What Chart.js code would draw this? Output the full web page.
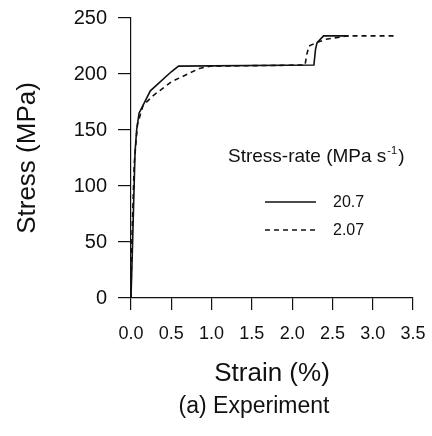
<!DOCTYPE html>
<html>
<head>
<meta charset="utf-8">
<script src="https://cdn.jsdelivr.net/npm/chart.js@4.4.1/dist/chart.umd.min.js"></script>
<style>
  html, body { margin: 0; padding: 0; background: #fff; }
  #wrap { width: 432px; height: 436px; position: relative; }
</style>
</head>
<body>
<div id="wrap"><canvas id="chart" width="432" height="436"></canvas></div>
<script>
// stress-rate 20.7 MPa/s (solid)
const strainFast = [0, 0.02, 0.05, 0.07, 0.10, 0.24, 0.50, 0.59, 2.27, 2.29, 2.31, 2.39, 2.70];
const stressFast = [0, 50, 130, 150, 165, 185, 202, 207, 208, 222, 228, 234, 234];

// stress-rate 2.07 MPa/s (dashed)
const strainSlow = [0, 0.01, 0.04, 0.08, 0.15, 0.28, 0.50, 0.85, 0.98, 2.16, 2.18, 2.21, 2.30, 2.42, 2.68, 3.30];
const stressSlow = [0, 50, 120, 155, 172, 181, 193, 205, 207, 208, 217, 225, 228, 231, 234, 234];

const seriesNames = ['20.7', '2.07'];
const legendTitle = 'Stress-rate (MPa s';
const legendSup = '-1';
const xTitle = 'Strain (%)';
const yTitle = 'Stress (MPa)';
const caption = '(a) Experiment';

const FONT = "'Liberation Sans', Arial, sans-serif";
const INK = '#111';

const toPoints = (xs, ys) => xs.map((x, i) => ({ x: x, y: ys[i] }));

const whiteBg = {
    id: 'whiteBg',
    beforeDraw(chart) {
        const ctx = chart.ctx;
        ctx.save();
        ctx.fillStyle = '#fff';
        ctx.fillRect(0, 0, chart.width, chart.height);
        ctx.restore();
    }
};

// legend box inside the plot + caption under the chart
const extras = {
    id: 'extras',
    afterDraw(chart) {
        const ctx = chart.ctx;
        ctx.save();
        ctx.fillStyle = INK;
        ctx.strokeStyle = INK;
        ctx.textBaseline = 'middle';
        ctx.textAlign = 'left';

        ctx.font = '19px ' + FONT;
        let x = 228;
        ctx.fillText(legendTitle, x, 157);
        x += ctx.measureText(legendTitle).width + 1;
        ctx.font = '11px ' + FONT;
        ctx.fillText(legendSup, x, 151);
        x += ctx.measureText(legendSup).width + 1;
        ctx.font = '19px ' + FONT;
        ctx.fillText(')', x, 157);

        const rows = [202, 230];
        chart.data.datasets.forEach((ds, i) => {
            ctx.lineWidth = 1.4;
            ctx.setLineDash(ds.borderDash || []);
            ctx.beginPath();
            ctx.moveTo(265, rows[i]);
            ctx.lineTo(316, rows[i]);
            ctx.stroke();
            ctx.setLineDash([]);
            ctx.font = '16px ' + FONT;
            ctx.fillText(seriesNames[i], 333, rows[i] + 1);
        });

        ctx.textAlign = 'center';
        ctx.font = '23px ' + FONT;
        ctx.fillText(caption, 254, 407);
        ctx.restore();
    }
};

new Chart(document.getElementById('chart'), {
    type: 'line',
    data: {
        datasets: [
            {
                label: seriesNames[0],
                data: toPoints(strainFast, stressFast),
                borderColor: INK,
                borderWidth: 1.6,
                pointRadius: 0,
                tension: 0,
                fill: false
            },
            {
                label: seriesNames[1],
                data: toPoints(strainSlow, stressSlow),
                borderColor: INK,
                borderWidth: 1.6,
                borderDash: [5, 4],
                pointRadius: 0,
                tension: 0,
                fill: false
            }
        ]
    },
    options: {
        responsive: false,
        animation: false,
        events: [],
        layout: { padding: { top: 18, right: 19, left: 0, bottom: 0 } },
        plugins: {
            legend: { display: false },
            tooltip: { enabled: false }
        },
        scales: {
            x: {
                type: 'linear',
                min: 0,
                max: 3.5,
                ticks: {
                    stepSize: 0.5,
                    callback: v => v.toFixed(1),
                    color: INK,
                    // tall line height pushes labels down while keeping edge padding small
                    font: { family: FONT, size: 18, lineHeight: 2.0 },
                    padding: 6,
                    maxRotation: 0
                },
                grid: { drawOnChartArea: false, tickLength: 12, color: INK, lineWidth: 1.2 },
                border: { color: INK, width: 1.2 },
                title: {
                    display: true,
                    text: xTitle,
                    color: INK,
                    font: { family: FONT, size: 26 },
                    padding: { top: 0, bottom: 47 }
                },
                afterFit(scale) { scale.height = 138; }
            },
            y: {
                min: 0,
                max: 250,
                ticks: {
                    stepSize: 50,
                    color: INK,
                    font: { family: FONT, size: 20, lineHeight: 0.6 },
                    padding: 11
                },
                grid: { drawOnChartArea: false, tickLength: 13, color: INK, lineWidth: 1.2 },
                border: { color: INK, width: 1.2 },
                title: {
                    display: true,
                    text: yTitle,
                    color: INK,
                    font: { family: FONT, size: 26 },
                    padding: { top: 12, bottom: 0 }
                },
                afterFit(scale) { scale.width = 131; }
            }
        }
    },
    plugins: [whiteBg, extras]
});
</script>
</body>
</html>
